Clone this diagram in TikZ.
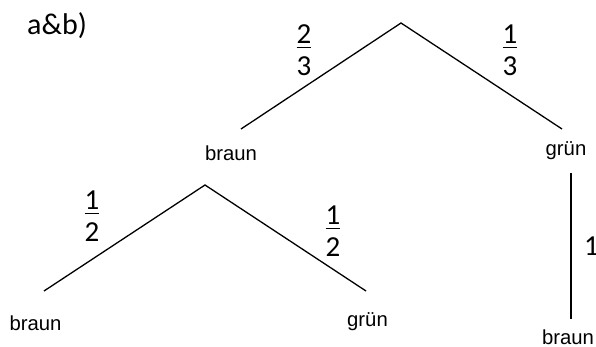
\documentclass[tikz,border=0pt]{standalone}
\usepackage{fontspec}
\setmainfont{Carlito}
\newfontfamily\arialfont{Liberation Sans}
\newcommand\myfrac[2]{\vbox{\offinterlineskip\halign{\hfil##\hfil\cr #1\cr\noalign{\kern3.5pt\hrule height 1pt\kern9pt}#2\cr}}}
\tikzset{
  branch/.style={line width=1.3pt},
  leaf/.style={font=\arialfont\fontsize{20.3}{24}\selectfont, inner sep=0pt, anchor=base},
  prob/.style={font=\fontsize{29}{34}\selectfont, inner sep=0pt},
  title/.style={font=\fontsize{30}{36}\selectfont, inner sep=0pt, anchor=base west}
}
\begin{document}
\begin{tikzpicture}[x=1pt,y=-1pt]
\useasboundingbox (0,0) rectangle (596,347);
\clip (0,0) rectangle (596,347);
\node[title] (lbl) at (27,35) {a\&b)};
% tree points
\coordinate (root) at (401,23);
\coordinate (bTop) at (241,129);
\coordinate (gTop) at (562,129);
\coordinate (bRoot) at (205,185);
\coordinate (bbEnd) at (44,291);
\coordinate (bgEnd) at (366,291);
\coordinate (gRoot) at (571,173);
\coordinate (gbEnd) at (571,319);
% leaves
\node[leaf] (b1) at (231,161) {braun};
\node[leaf] (g1) at (566,156) {grün};
\node[leaf] (b2) at (35.5,330) {braun};
\node[leaf] (g2) at (367.5,326) {grün};
\node[leaf] (b3) at (568,344) {braun};
% branches
\draw[branch] (bTop) -- (root) -- (gTop);
\draw[branch] (bbEnd) -- (bRoot) -- (bgEnd);
\draw[branch] (gRoot) -- (gbEnd);
% probabilities
\node[prob] (p1) at (304,50) {\myfrac{2}{3}};
\node[prob] (p2) at (510,50) {\myfrac{1}{3}};
\node[prob] (p3) at (92,216) {\myfrac{1}{2}};
\node[prob] (p4) at (333,231) {\myfrac{1}{2}};
\node[prob, anchor=base west] (p5) at (584,255) {1};
\end{tikzpicture}
\end{document}
